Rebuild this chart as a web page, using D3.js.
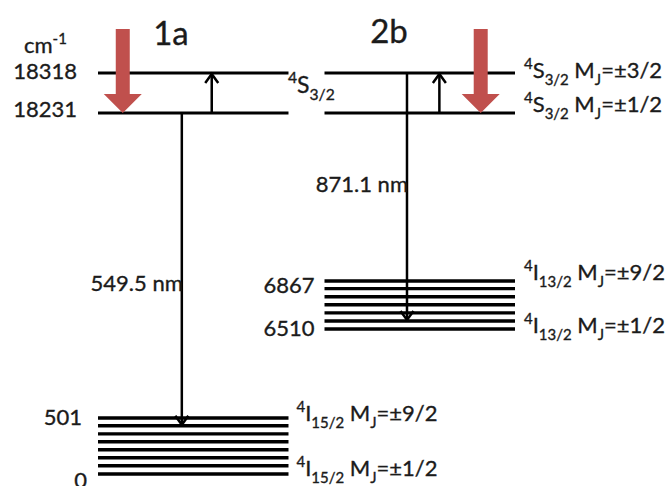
<!DOCTYPE html>
<html>
<head>
<meta charset="utf-8">
<script src="https://cdn.jsdelivr.net/npm/d3@7"></script>
<style>
  html, body { margin: 0; padding: 0; background: #fff; }
  svg { display: block; }
  text { font-family: Lato, "Open Sans", sans-serif; fill: #1b1b1b; stroke: #1b1b1b; stroke-width: 0.35px; }
</style>
</head>
<body>
<svg id="chart" width="670" height="486"></svg>
<script>
// ---- data (energies in cm^-1) ----
const columns = ["1a", "2b"];
const levelsS32 = [18231, 18318];                              // 4S3/2 doublets
const levelsI152 = [0, 74, 145, 217, 288, 359, 431, 501];       // 4I15/2 Stark levels
const levelsI132 = [6510, 6570, 6630, 6690, 6750, 6810, 6867];  // 4I13/2 Stark levels
const energyBreaks = [0, 501, 6510, 6867, 18231, 18318];

// energy tick labels, per column
const tickCol = ["1a", "1a", "1a", "1a", "2b", "2b"];
const tickEnergy = [18318, 18231, 501, 0, 6867, 6510];

// optical transitions (down) and spin transitions (up)
const emCol = ["1a", "2b"];
const emFrom = [18231, 18318];
const emTo = [431, 6570];
const emLabel = ["549.5 nm", "871.1 nm"];
const upCol = ["1a", "2b"];
const upFrom = [18231, 18231];
const upTo = [18318, 18318];

// pump arrows
const pumpCol = ["1a", "2b"];
const pumpTo = [18231, 18231];

// state labels: column, energy, term letter, J, MJ
const stateCol = ["2b", "2b", "1a", "1a", "2b", "2b"];
const stateEnergy = [18318, 18231, 501, 0, 6867, 6510];
const stateTerm = ["S", "S", "I", "I", "I", "I"];
const stateJ = ["3/2", "3/2", "15/2", "15/2", "13/2", "13/2"];
const stateMJ = ["±3/2", "±1/2", "±9/2", "±1/2", "±9/2", "±1/2"];

// ---- scales ----
const svg = d3.select("#chart");
const y = d3.scaleLinear().domain(energyBreaks).range([474, 418, 329, 281, 113, 73]);
const x = d3.scaleBand().domain(columns).range([98, 515]).paddingInner(0.159).paddingOuter(0);
const bw = x.bandwidth();

svg.append("rect").attr("width", 670).attr("height", 486).attr("fill", "#fff");

// rich text with super/subscripts
function rich(sel, px, py, parts, size, anchor) {
  const t = sel.append("text").attr("x", px).attr("y", py)
    .attr("font-size", size).attr("text-anchor", anchor || "start");
  let cur = 0;
  parts.forEach(([s, kind]) => {
    const target = kind === "sup" ? -0.42 * size : kind === "sub" ? 0.3 * size : 0;
    t.append("tspan").attr("dy", target - cur)
      .attr("font-size", kind ? size * 0.68 : size).text(s);
    cur = target;
  });
  return t;
}

// ---- energy levels ----
const lev = svg.append("g").attr("stroke", "#000").attr("stroke-width", 3);
columns.forEach(c => {
  levelsS32.forEach(e => lev.append("line")
    .attr("x1", x(c)).attr("x2", x(c) + bw).attr("y1", y(e)).attr("y2", y(e)));
});
levelsI152.forEach(e => lev.append("line").attr("stroke-width", 3.4)
  .attr("x1", x("1a")).attr("x2", x("1a") + bw).attr("y1", y(e)).attr("y2", y(e)));
levelsI132.forEach(e => lev.append("line").attr("stroke-width", 3.4)
  .attr("x1", x("2b")).attr("x2", x("2b") + bw).attr("y1", y(e)).attr("y2", y(e)));

// ---- arrows ----
const arr = svg.append("g").attr("stroke", "#000").attr("stroke-width", 2.5).attr("fill", "none");
function chevron(px, tipY, dir) {
  // dir = +1 pointing down, -1 pointing up
  arr.append("path").attr("stroke-linejoin", "miter")
    .attr("d", `M${px - 6.5},${tipY - dir * 9}L${px},${tipY}L${px + 6.5},${tipY - dir * 9}`);
}
const emFrac = { "1a": 0.44, "2b": 0.433 };
const upFrac = { "1a": 0.597, "2b": 0.603 };
const pumpFrac = { "1a": 0.13, "2b": 0.82 };

emCol.forEach((c, i) => {
  const px = x(c) + emFrac[c] * bw;
  arr.append("line").attr("x1", px).attr("x2", px).attr("y1", y(emFrom[i])).attr("y2", y(emTo[i]) - 1);
  chevron(px, y(emTo[i]) - 1, 1);
});
upCol.forEach((c, i) => {
  const px = x(c) + upFrac[c] * bw;
  arr.append("line").attr("x1", px).attr("x2", px).attr("y1", y(upFrom[i])).attr("y2", y(upTo[i]) + 1);
  chevron(px, y(upTo[i]) + 1, -1);
});

// pump arrows (block arrows)
pumpCol.forEach((c, i) => {
  const px = x(c) + pumpFrac[c] * bw;
  const tip = y(pumpTo[i]);
  const len = 84, head = 19, sw = 7, hw = 19;
  const top = tip - len, hb = tip - head;
  svg.append("path").attr("fill", "#c0504d")
    .attr("d", `M${px - sw},${top}L${px + sw},${top}L${px + sw},${hb}L${px + hw},${hb}L${px},${tip}L${px - hw},${hb}L${px - sw},${hb}Z`);
});

// ---- text ----
const txt = svg.append("g");
// column titles
rich(txt, x("1a") + 0.29 * bw, 45, [["1a"]], 33, "start");
rich(txt, x("2b") + 0.24 * bw, 43, [["2b"]], 33, "start");

// units
rich(txt, 24, 53, [["cm"], ["-1", "sup"]], 22);

// energy tick labels
const tickOff = { 18318: [-21, 6], 18231: [-21, 4], 501: [-16, 7], 0: [-11, 14], 6867: [-10, 12], 6510: [-10, 7] };
tickEnergy.forEach((e, i) => {
  const o = tickOff[e];
  rich(txt, x(tickCol[i]) + o[0], y(e) + o[1], [[String(e)]], 22, "end");
});

// term label between columns
rich(txt, 288, 93, [["4", "sup"], ["S"], ["3/2", "sub"]], 23);

// state labels to the right of the levels
const stateOff = { 18318: 5, 18231: -1, 501: 3, 0: 2, 6867: -1, 6510: 4 };
stateEnergy.forEach((e, i) => {
  const px = x(stateCol[i]) + bw + (stateCol[i] === "1a" ? 8 : 9);
  rich(txt, px, y(e) + stateOff[e],
    [["4", "sup"], [stateTerm[i]], [stateJ[i], "sub"], [" M"], ["J", "sub"], ["=" + stateMJ[i]]], 22);
});

// wavelength labels
emCol.forEach((c, i) => {
  const px = x(c) + emFrac[c] * bw;
  const ly = c === "1a" ? 291 : 192;
  rich(txt, px + 1, ly, [[emLabel[i]]], 22, "end");
});
</script>
</body>
</html>
